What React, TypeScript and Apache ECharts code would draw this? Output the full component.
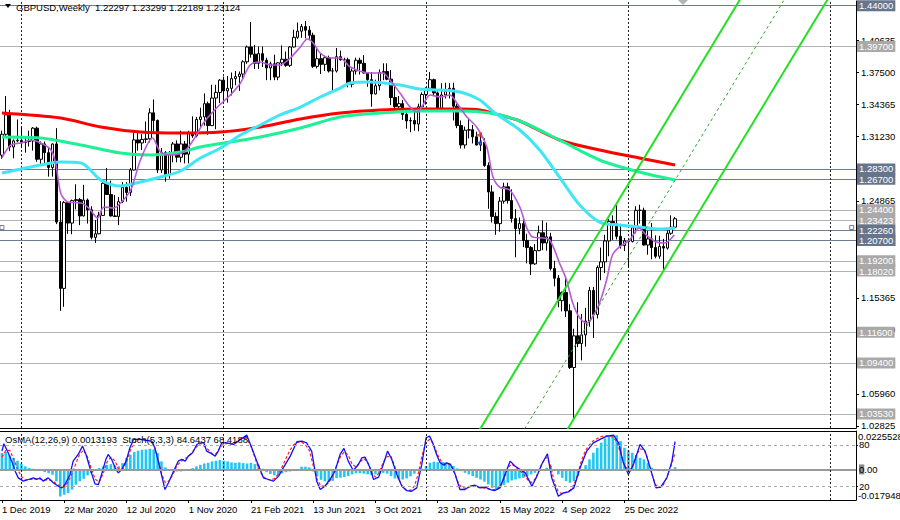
import React, { useEffect, useRef } from "react";
import * as echarts from "echarts";

// ---------- DATA ----------
const SYMBOL = "GBPUSD";
const TIMEFRAME = "Weekly";
const START_UTC = Date.UTC(2019, 11, 1);
const N_SLOTS = 220;
const LABEL_EVERY = 16;
const MONTHS = ["Jan", "Feb", "Mar", "Apr", "May", "Jun", "Jul", "Aug", "Sep", "Oct", "Nov", "Dec"];

// weekly candles [open, high, low, close]
const OHLC: number[][] = [
  [1.2935,1.3175,1.2900,1.3140],[1.3140,1.3515,1.3105,1.3330],[1.3330,1.3380,1.2975,1.3015],[1.3015,1.3090,1.2905,1.3075],
  [1.3075,1.3285,1.3060,1.3080],[1.3080,1.3215,1.3010,1.3060],[1.3060,1.3120,1.2960,1.3070],[1.3070,1.3175,1.3020,1.3075],
  [1.3075,1.3210,1.2980,1.3200],[1.3200,1.3215,1.2870,1.2895],[1.2895,1.3070,1.2850,1.3045],[1.3045,1.3070,1.2850,1.2960],
  [1.2960,1.3010,1.2725,1.2815],[1.2815,1.3050,1.2725,1.3045],[1.3045,1.3200,1.2260,1.2280],[1.2280,1.2485,1.1410,1.1630],
  [1.1630,1.2485,1.1450,1.2470],[1.2470,1.2480,1.2165,1.2270],[1.2270,1.2500,1.2160,1.2490],[1.2490,1.2650,1.2405,1.2500],
  [1.2500,1.2515,1.2250,1.2340],[1.2340,1.2645,1.2335,1.2495],[1.2495,1.2510,1.2265,1.2400],[1.2400,1.2435,1.2110,1.2130],
  [1.2130,1.2300,1.2075,1.2165],[1.2165,1.2380,1.2160,1.2345],[1.2345,1.2670,1.2340,1.2660],[1.2660,1.2810,1.2545,1.2550],
  [1.2550,1.2685,1.2335,1.2340],[1.2340,1.2545,1.2330,1.2335],[1.2335,1.2525,1.2250,1.2480],[1.2480,1.2670,1.2465,1.2620],
  [1.2620,1.2670,1.2480,1.2570],[1.2570,1.2810,1.2535,1.2790],[1.2790,1.3170,1.2785,1.3085],[1.3085,1.3170,1.2980,1.3055],
  [1.3055,1.3140,1.2985,1.3090],[1.3090,1.3265,1.3055,1.3095],[1.3095,1.3395,1.3060,1.3350],[1.3350,1.3480,1.3170,1.3275],
  [1.3275,1.3285,1.2760,1.2790],[1.2790,1.3005,1.2760,1.2960],[1.2960,1.2975,1.2675,1.2745],[1.2745,1.2975,1.2705,1.2945],
  [1.2945,1.3065,1.2865,1.3045],[1.3045,1.3080,1.2865,1.2915],[1.2915,1.3175,1.2865,1.3045],[1.3045,1.3075,1.2855,1.2945],
  [1.2945,1.3175,1.2855,1.3150],[1.3150,1.3315,1.3105,1.3125],[1.3125,1.3310,1.3110,1.3285],[1.3285,1.3400,1.3205,1.3310],
  [1.3310,1.3540,1.3225,1.3440],[1.3440,1.3460,1.3135,1.3225],[1.3225,1.3625,1.3220,1.3495],[1.3495,1.3625,1.3190,1.3550],
  [1.3550,1.3680,1.3445,1.3670],[1.3670,1.3705,1.3450,1.3565],[1.3565,1.3710,1.3450,1.3590],[1.3590,1.3745,1.3520,1.3685],
  [1.3685,1.3760,1.3620,1.3705],[1.3705,1.3755,1.3565,1.3730],[1.3730,1.3865,1.3675,1.3850],[1.3850,1.4010,1.3830,1.3995],
  [1.3995,1.4240,1.3890,1.3925],[1.3925,1.4015,1.3780,1.3835],[1.3835,1.4000,1.3780,1.3930],[1.3930,1.4000,1.3800,1.3865],
  [1.3865,1.3890,1.3670,1.3790],[1.3790,1.3850,1.3670,1.3830],[1.3830,1.3920,1.3670,1.3700],[1.3700,1.3845,1.3670,1.3840],
  [1.3840,1.4010,1.3810,1.3875],[1.3875,1.3950,1.3800,1.3815],[1.3815,1.4005,1.3800,1.3995],[1.3995,1.4165,1.3990,1.4090],
  [1.4090,1.4235,1.4075,1.4150],[1.4150,1.4220,1.4085,1.4195],[1.4195,1.4250,1.4080,1.4160],[1.4160,1.4200,1.4075,1.4110],
  [1.4110,1.4135,1.3790,1.3805],[1.3805,1.3975,1.3785,1.3880],[1.3880,1.3930,1.3730,1.3825],[1.3825,1.3910,1.3760,1.3890],
  [1.3890,1.3910,1.3745,1.3760],[1.3760,1.3790,1.3570,1.3760],[1.3760,1.3985,1.3745,1.3900],[1.3900,1.3960,1.3860,1.3870],
  [1.3870,1.3890,1.3800,1.3870],[1.3870,1.3890,1.3600,1.3630],[1.3630,1.3785,1.3600,1.3760],[1.3760,1.3890,1.3725,1.3865],
  [1.3865,1.3890,1.3725,1.3835],[1.3835,1.3915,1.3735,1.3740],[1.3740,1.3750,1.3605,1.3675],[1.3675,1.3750,1.3410,1.3535],
  [1.3535,1.3675,1.3530,1.3615],[1.3615,1.3775,1.3570,1.3745],[1.3745,1.3835,1.3670,1.3755],[1.3755,1.3835,1.3670,1.3680],
  [1.3680,1.3770,1.3425,1.3500],[1.3500,1.3610,1.3355,1.3410],[1.3410,1.3515,1.3375,1.3440],[1.3440,1.3475,1.3280,1.3335],
  [1.3335,1.3375,1.3195,1.3270],[1.3270,1.3305,1.3160,1.3275],[1.3275,1.3375,1.3175,1.3240],[1.3240,1.3440,1.3170,1.3410],
  [1.3410,1.3550,1.3400,1.3530],[1.3530,1.3600,1.3430,1.3590],[1.3590,1.3750,1.3565,1.3675],[1.3675,1.3685,1.3520,1.3545],
  [1.3545,1.3560,1.3360,1.3385],[1.3385,1.3640,1.3360,1.3525],[1.3525,1.3645,1.3490,1.3560],[1.3560,1.3640,1.3490,1.3590],
  [1.3590,1.3645,1.3275,1.3415],[1.3415,1.3440,1.3200,1.3225],[1.3225,1.3275,1.3000,1.3035],[1.3035,1.3215,1.3000,1.3180],
  [1.3180,1.3300,1.3100,1.3185],[1.3185,1.3230,1.3050,1.3115],[1.3115,1.3165,1.3030,1.3035],[1.3035,1.3145,1.2975,1.3060],
  [1.3060,1.3100,1.2820,1.2835],[1.2835,1.2865,1.2410,1.2575],[1.2575,1.2640,1.2275,1.2335],[1.2335,1.2375,1.2155,1.2265],
  [1.2265,1.2525,1.2185,1.2485],[1.2485,1.2665,1.2460,1.2625],[1.2625,1.2665,1.2460,1.2490],[1.2490,1.2600,1.2275,1.2315],
  [1.2315,1.2405,1.1935,1.2215],[1.2215,1.2325,1.2160,1.2265],[1.2265,1.2325,1.2035,1.2100],[1.2100,1.2165,1.1875,1.2030],
  [1.2030,1.2045,1.1760,1.1870],[1.1870,1.2065,1.1860,1.2000],[1.2000,1.2245,1.1995,1.2175],[1.2175,1.2295,1.2005,1.2075],
  [1.2075,1.2275,1.2000,1.2135],[1.2135,1.2175,1.1805,1.1825],[1.1825,1.1900,1.1650,1.1730],[1.1730,1.1760,1.1445,1.1510],
  [1.1510,1.1600,1.1405,1.1590],[1.1590,1.1740,1.1350,1.1410],[1.1410,1.1475,1.0840,1.0855],[1.0855,1.1235,1.0353,1.1165],
  [1.1165,1.1495,1.1055,1.1090],[1.1090,1.1380,1.0925,1.1175],[1.1175,1.1440,1.1060,1.1310],[1.1310,1.1645,1.1255,1.1610],
  [1.1610,1.1645,1.1145,1.1375],[1.1375,1.1855,1.1335,1.1835],[1.1835,1.2030,1.1710,1.1890],[1.1890,1.2155,1.1780,1.2095],
  [1.2095,1.2310,1.1945,1.2285],[1.2285,1.2345,1.2105,1.2260],[1.2260,1.2445,1.2110,1.2140],[1.2140,1.2245,1.2020,1.2050],
  [1.2050,1.2125,1.1995,1.2095],[1.2095,1.2115,1.1840,1.2090],[1.2090,1.2245,1.2080,1.2225],[1.2225,1.2435,1.2170,1.2395],
  [1.2395,1.2450,1.2265,1.2395],[1.2395,1.2420,1.2050,1.2055],[1.2055,1.2195,1.1960,1.2115],[1.2115,1.2270,1.1915,1.2030],
  [1.2030,1.2150,1.1925,1.1945],[1.1945,1.2145,1.1920,1.2040],[1.2040,1.2115,1.1800,1.2025],[1.2025,1.2205,1.2010,1.2170],
  [1.2170,1.2345,1.2155,1.2230],[1.22297,1.23299,1.22189,1.23124],
];

// moving averages: [week index, price]
const MA_RED = [[0,1.3348],[15.1,1.3299],[25.4,1.3211],[35.6,1.3162],[45.9,1.3152],[56.2,1.3162],[66.4,1.3211],[76.7,1.3290],[86.9,1.3348],[97.2,1.3378],[107.4,1.3388],[117.7,1.3388],[122.8,1.3378],[127.9,1.3329],[133.1,1.3270],[143.3,1.3084],[153.6,1.2986],[163.8,1.2908],[173,1.2839]];
const MA_GREEN = [[0,1.3113],[10,1.3103],[20.3,1.3035],[30.5,1.2956],[38.2,1.2937],[45.9,1.2966],[51,1.3015],[58.7,1.3064],[66.4,1.3113],[76.7,1.3201],[86.9,1.3309],[97.2,1.3348],[107.4,1.3368],[117.7,1.3368],[125.4,1.3348],[133.1,1.3270],[143.3,1.3084],[153.6,1.2888],[163.8,1.2770],[173,1.2692]];
const MA_CYAN = [[0,1.2760],[10,1.2839],[15.1,1.2868],[20.3,1.2858],[25.4,1.2692],[30.5,1.2633],[35.6,1.2672],[40.8,1.2721],[45.9,1.2780],[51,1.2907],[56.2,1.3005],[61.3,1.3133],[66.4,1.3231],[71.5,1.3329],[76.7,1.3407],[81.8,1.3505],[86.9,1.3593],[89.5,1.3642],[94.6,1.3652],[102.3,1.3623],[107.4,1.3583],[112.6,1.3574],[117.7,1.3554],[122.8,1.3476],[126.7,1.3348],[133.1,1.3182],[138.2,1.2986],[143.8,1.2692],[148.5,1.2447],[153.6,1.2280],[158.7,1.2251],[163.8,1.2231],[169,1.2212],[173,1.2222]];
const MA_PURPLE = [[0,1.2908],[2.3,1.3035],[4.9,1.3054],[7.4,1.3084],[10,1.3054],[12.6,1.2986],[13.8,1.2858],[15.1,1.2565],[16.9,1.2477],[20.3,1.2467],[22.3,1.2418],[24.6,1.2320],[26.2,1.2428],[28.7,1.2418],[30.5,1.2467],[33.1,1.2594],[35.6,1.2888],[38.7,1.3103],[40.8,1.2966],[43.3,1.2937],[46.7,1.2966],[49.2,1.3084],[51.8,1.3250],[55.4,1.3407],[58.7,1.3525],[61.3,1.3642],[63.8,1.3819],[66.4,1.3848],[69,1.3819],[71.5,1.3819],[74.1,1.3887],[76.7,1.3995],[78.5,1.4073],[80,1.4034],[81.8,1.3936],[84.4,1.3887],[86.9,1.3887],[89.5,1.3799],[94.6,1.3740],[97.9,1.3740],[99.7,1.3672],[102.3,1.3544],[104.9,1.3407],[106.7,1.3358],[108.2,1.3427],[110,1.3525],[112.6,1.3505],[115.1,1.3525],[116.9,1.3446],[119.5,1.3309],[122,1.3211],[124.6,1.3015],[126.2,1.2721],[127.9,1.2623],[130.5,1.2594],[133.1,1.2427],[134.9,1.2222],[136.4,1.2133],[139,1.2124],[140.8,1.2104],[143.3,1.1879],[145.1,1.1712],[146.7,1.1487],[148.5,1.1340],[150.3,1.1291],[151.8,1.1350],[153.6,1.1487],[155.4,1.1712],[156.9,1.1957],[158.7,1.2036],[161.3,1.2104],[163.8,1.2222],[165.6,1.2153],[168.2,1.2084],[170.3,1.2075],[172.8,1.2153]];

// equidistant channel: two anchor points per line [week index, price]
const CHANNEL_UPPER = [[118.9,1.0],[193.5,1.47]];
const CHANNEL_MID = [[130.3,1.0],[204.9,1.47]];
const CHANNEL_LOWER = [[141.4,1.0],[216.0,1.47]];

// horizontal levels
const LEVELS_DARK = [1.44, 1.283, 1.267, 1.2226, 1.213, 1.207];
const LEVELS_LIGHT = [1.397, 1.244, 1.23423, 1.192, 1.1802, 1.116, 1.094, 1.0353];
const SELECTED_LEVEL = 1.2226;
const TRADE_SELL = [[122.6, 1.3133]];
const TRADE_BUY = [[122.6, 1.3054]];

// price scale
const PRICE_MIN = 1.02623;
const PRICE_MAX = 1.44456;
const PRICE_TICKS = [1.02825,1.0596,1.09095,1.1223,1.15365,1.185,1.2173,1.24865,1.28095,1.3123,1.34365,1.375,1.40635];

// year separators (week index)
const YEAR_STARTS = [5, 57, 109, 161, 213];

// OsMA(12,26,9) histogram
const OSMA = [0.0096,0.0102,0.0082,0.0067,0.0051,0.0033,0.0018,0.0008,0.0004,-0.0004,-0.0008,-0.0016,-0.0022,-0.0031,-0.0070,-0.0159,-0.0149,-0.0139,-0.0119,-0.0090,-0.0070,-0.0055,-0.0035,-0.0022,-0.0008,0.0008,0.0018,0.0027,0.0031,0.0023,0.0018,0.0037,0.0067,0.0086,0.0102,0.0110,0.0115,0.0117,0.0121,0.0117,0.0096,0.0047,0.0012,-0.0006,-0.0008,-0.0012,-0.0012,-0.0008,-0.0004,0.0008,0.0018,0.0027,0.0035,0.0039,0.0047,0.0051,0.0055,0.0051,0.0047,0.0041,0.0039,0.0041,0.0037,0.0035,0.0039,0.0031,0.0023,0.0004,-0.0016,-0.0027,-0.0035,-0.0031,-0.0023,-0.0016,-0.0012,-0.0008,0.0002,0.0016,0.0016,0.0012,-0.0012,-0.0041,-0.0061,-0.0070,-0.0074,-0.0067,-0.0051,-0.0049,-0.0045,-0.0039,-0.0029,-0.0023,-0.0022,-0.0025,-0.0029,-0.0033,-0.0029,-0.0025,-0.0020,-0.0025,-0.0039,-0.0053,-0.0059,-0.0059,-0.0053,-0.0041,-0.0025,-0.0010,-0.0002,0.0020,0.0039,0.0045,0.0043,0.0045,0.0041,0.0033,0.0020,0.0006,-0.0010,-0.0020,-0.0029,-0.0039,-0.0049,-0.0059,-0.0072,-0.0088,-0.0108,-0.0117,-0.0108,-0.0092,-0.0078,-0.0065,-0.0059,-0.0053,-0.0049,-0.0039,-0.0029,-0.0020,-0.0010,-0.0002,0.0010,0.0020,-0.0002,-0.0029,-0.0049,-0.0068,-0.0078,-0.0068,-0.0039,-0.0006,0.0025,0.0059,0.0098,0.0127,0.0157,0.0182,0.0196,0.0201,0.0201,0.0166,0.0127,0.0112,0.0098,0.0084,0.0068,0.0059,0.0039,0.0010,-0.0006,-0.0010,-0.0010,-0.0006,0.0002,0.0013];
const OSMA_MIN = -0.017948;
const OSMA_MAX = 0.0225528;

// Stochastic(5,3,3): main line [week index, value], signal per week
const STOCH_MAIN = [[0,70.9],[0.5,81.5],[1.6,68.4],[2.5,56.3],[3.4,41.8],[4.2,32.1],[5.5,27.3],[6.8,29.7],[8.1,32.1],[8.9,29.7],[9.8,32.1],[10.6,27.3],[11.9,32.1],[13.2,24.9],[14.5,20.0],[15.4,17.6],[16.2,22.4],[17.5,37.0],[18.3,56.3],[19.6,66.0],[20.7,78.1],[21.6,66.0],[22.6,46.6],[23.9,23.4],[24.8,22.4],[25.6,37.0],[26.7,58.8],[27.3,66.0],[28.2,58.8],[29.1,46.6],[29.9,39.3],[30.8,44.2],[31.9,56.3],[32.9,75.7],[33.8,87.8],[35.5,87.8],[37.2,86.4],[38.5,85.4],[39.3,75.7],[40.6,46.6],[41.9,15.2],[42.8,24.9],[44.1,41.8],[45.3,56.3],[46.2,58.8],[47.1,56.3],[47.9,63.6],[49.0,68.4],[50.1,80.5],[50.9,82.9],[51.9,82.9],[52.6,70.9],[53.5,68.4],[54.8,63.6],[55.6,70.9],[56.5,82.9],[57.8,82.9],[59.5,80.5],[60.8,85.4],[62.9,94.1],[64.2,75.7],[65.5,56.3],[67.2,32.1],[68.5,29.7],[69.8,27.3],[71.1,34.6],[72.3,46.6],[74.1,63.6],[75.8,84.4],[77.1,85.4],[78.3,82.9],[79.6,70.9],[80.9,27.3],[81.8,15.2],[83.0,20.0],[84.3,29.7],[85.6,41.8],[86.9,66.0],[87.9,74.8],[89.0,56.3],[90.3,42.8],[91.6,51.5],[92.5,61.2],[93.3,62.2],[94.6,46.6],[95.5,29.7],[96.8,33.1],[98.0,51.5],[99.1,70.9],[100.2,58.8],[101.5,37.0],[102.8,20.0],[104.0,13.7],[105.3,12.7],[106.6,17.6],[107.9,51.5],[109.0,90.2],[109.9,92.6],[110.7,82.9],[111.7,66.0],[112.6,53.9],[113.6,50.5],[114.3,53.9],[115.3,51.5],[116.5,37.0],[117.7,15.2],[119.0,15.2],[120.3,20.0],[121.6,21.4],[122.9,17.6],[124.2,18.6],[125.5,15.2],[126.7,13.7],[128.0,17.6],[129.3,37.0],[130.6,56.3],[131.9,49.0],[133.2,44.2],[134.5,39.3],[136.2,20.0],[137.5,34.6],[138.7,51.5],[140.2,67.0],[141.3,32.1],[143.0,5.5],[144.3,10.3],[145.6,11.8],[147.0,17.6],[148.6,46.6],[150.3,70.9],[152.0,82.9],[153.7,87.8],[155.5,92.6],[157.2,94.1],[158.5,82.9],[159.7,53.9],[161.0,37.0],[162.3,51.5],[164.0,80.5],[165.3,70.9],[166.6,46.6],[168.1,17.6],[169.3,18.6],[170.9,32.1],[172.2,56.3],[173,84.6]];
const STOCH_SIGNAL = [62,72,72,60,45,34,29,30,30,31,30,29,29,28,23,20,19,26,38,53,67,72,62,45,30,26,38,55,62,57,45,44,55,72,83,87,88,87,86,80,62,38,25,28,38,50,56,60,63,70,77,82,78,73,67,67,75,81,82,81,83,88,90,88,78,62,45,35,30,29,31,37,48,60,72,80,84,84,80,72,50,30,20,20,25,35,50,63,70,65,52,48,55,60,55,40,33,40,55,63,63,48,30,19,14,14,20,38,65,84,88,80,65,55,52,52,45,28,19,17,19,20,19,18,17,16,15,15,20,30,47,52,48,43,38,30,25,30,42,55,62,50,25,12,9,11,14,22,38,58,72,80,86,89,92,93,93,91,85,68,50,43,48,65,74,73,60,38,22,18,22,35,50,68.4];
const STOCH_LEVELS = [20, 80];
const SUB_TITLE = "OsMA(12,26,9) 0.0013193  Stoch(5,3,3) 84.6437 68.4188";

// ---------- STYLE ----------
const FONT = "'Liberation Sans', Arial, sans-serif";
const FS = 9.5;
const DARK_LVL = "#6f7d92";
const LIGHT_LVL = "#b2b2b2";

const CATEGORIES = Array.from({ length: N_SLOTS }, (_, i) => {
  const d = new Date(START_UTC + i * 7 * 86400000);
  return `${d.getUTCDate()} ${MONTHS[d.getUTCMonth()]} ${d.getUTCFullYear()}`;
});

function levelItem(v: number, color: string, bg: string) {
  return {
    yAxis: v,
    lineStyle: { color, width: 1, type: "solid" },
    label: {
      show: true,
      position: "end",
      distance: 1,
      formatter: () => v.toFixed(5),
      color: "#fff",
      backgroundColor: bg,
      padding: [1, 2, 0, 2],
      fontSize: FS,
      fontFamily: FONT,
    },
  };
}

function sepItem(i: number) {
  return {
    xAxis: i,
    lineStyle: { color: "#222", width: 1, type: [2, 2] },
    label: { show: false },
  };
}

function buildOption(): any {
  const last = OHLC[OHLC.length - 1];
  const title = `${SYMBOL},${TIMEFRAME}  ${last.map((v) => v.toFixed(5)).join(" ")}`;
  const candleData = OHLC.map(([o, h, l, c]) => [o, c, l, h]);
  const lastIdx = OHLC.length - 1;
  const showDateLabel = (index: number) => index % LABEL_EVERY === 0 && index <= lastIdx;

  const axisText = { fontSize: FS, fontFamily: FONT, color: "#000" };

  return {
    animation: false,
    backgroundColor: "#ffffff",
    textStyle: { fontFamily: FONT },
    grid: [
      { left: 0, right: 44, top: 1, height: 427, outerBoundsMode: "none", containLabel: false },
      { left: 0, right: 44, top: 431, height: 69, outerBoundsMode: "none", containLabel: false },
    ],
    xAxis: [
      {
        type: "category", gridIndex: 0, data: CATEGORIES, boundaryGap: true,
        axisLine: { show: true, onZero: false, lineStyle: { color: "#000", width: 1 } },
        axisTick: { show: false }, axisLabel: { show: false }, splitLine: { show: false },
      },
      { type: "value", gridIndex: 0, min: -0.5, max: N_SLOTS - 0.5, show: false },
      {
        type: "category", gridIndex: 1, data: CATEGORIES, boundaryGap: true, position: "bottom",
        axisLine: { show: true, onZero: false, lineStyle: { color: "#000", width: 1 } },
        axisTick: { show: true, interval: showDateLabel, alignWithLabel: true, length: 3, lineStyle: { color: "#000" } },
        axisLabel: { ...axisText, interval: showDateLabel, align: "left", margin: 4 },
        splitLine: { show: false },
      },
      {
        type: "value", gridIndex: 1, min: -0.5, max: N_SLOTS - 0.5, position: "top",
        axisLine: { show: true, onZero: false, lineStyle: { color: "#000", width: 1 } },
        axisTick: { show: false }, axisLabel: { show: false }, splitLine: { show: false },
      },
    ],
    yAxis: [
      {
        type: "value", gridIndex: 0, position: "right", min: PRICE_MIN, max: PRICE_MAX,
        axisLine: { show: true, onZero: false, lineStyle: { color: "#000" } },
        axisTick: { show: true, customValues: PRICE_TICKS, length: 3, lineStyle: { color: "#000" } },
        axisLabel: { ...axisText, customValues: PRICE_TICKS, margin: 5, formatter: (v: number) => v.toFixed(5) },
        splitLine: { show: false },
      },
      {
        type: "value", gridIndex: 1, position: "right", min: 0, max: 100,
        axisLine: { show: true, onZero: false, lineStyle: { color: "#000" } },
        axisTick: { show: true, customValues: STOCH_LEVELS, length: 2, lineStyle: { color: "#000" } },
        axisLabel: { ...axisText, customValues: STOCH_LEVELS, margin: 3 },
        splitLine: { show: false },
      },
      {
        type: "value", gridIndex: 1, position: "right", min: OSMA_MIN, max: OSMA_MAX,
        axisLine: { show: false, onZero: false }, axisTick: { show: false },
        axisLabel: {
          ...axisText, customValues: [0], margin: 3,
          formatter: () => "{b|0}.00",
          rich: { b: { backgroundColor: "#8a8a8a", color: "#000", fontSize: FS, fontFamily: FONT } },
        },
        splitLine: { show: false },
      },
      {
        type: "value", gridIndex: 1, position: "right", min: OSMA_MIN, max: OSMA_MAX,
        axisLine: { show: false, onZero: false }, axisTick: { show: false },
        axisLabel: { ...axisText, customValues: [OSMA_MAX], margin: 2, verticalAlign: "top", formatter: () => String(OSMA_MAX) },
        splitLine: { show: false },
      },
      {
        type: "value", gridIndex: 1, position: "right", min: OSMA_MIN, max: OSMA_MAX,
        axisLine: { show: false, onZero: false }, axisTick: { show: false },
        axisLabel: { ...axisText, customValues: [OSMA_MIN], margin: 2, verticalAlign: "bottom", formatter: () => String(OSMA_MIN) },
        splitLine: { show: false },
      },
    ],
    series: [
      {
        type: "candlestick", xAxisIndex: 0, yAxisIndex: 0, data: candleData, barWidth: 3, z: 2,
        itemStyle: { color: "#ffffff", color0: "#000000", borderColor: "#000000", borderColor0: "#000000", borderWidth: 1 },
        markLine: {
          silent: true, symbol: ["none", "none"], animation: false, z: 1,
          data: [
            ...LEVELS_LIGHT.map((v) => levelItem(v, LIGHT_LVL, "#a9a9a9")),
            ...LEVELS_DARK.map((v) => levelItem(v, DARK_LVL, "#66758b")),
            ...YEAR_STARTS.map(sepItem),
          ],
        },
      },
      { type: "line", xAxisIndex: 1, yAxisIndex: 0, data: MA_RED, smooth: 0.3, symbol: "none", z: 3, lineStyle: { color: "#ff0000", width: 3 } },
      { type: "line", xAxisIndex: 1, yAxisIndex: 0, data: MA_GREEN, smooth: 0.3, symbol: "none", z: 3, lineStyle: { color: "#1ef095", width: 3 } },
      { type: "line", xAxisIndex: 1, yAxisIndex: 0, data: MA_CYAN, smooth: 0.3, symbol: "none", z: 3, lineStyle: { color: "#3fe6f4", width: 3 } },
      { type: "line", xAxisIndex: 1, yAxisIndex: 0, data: MA_PURPLE, smooth: 0.3, symbol: "none", z: 4, lineStyle: { color: "#b95ad6", width: 1.6 } },
      { type: "line", xAxisIndex: 1, yAxisIndex: 0, data: CHANNEL_UPPER, symbol: "none", z: 5, clip: true, lineStyle: { color: "#22e022", width: 2 } },
      { type: "line", xAxisIndex: 1, yAxisIndex: 0, data: CHANNEL_MID, symbol: "none", z: 5, clip: true, lineStyle: { color: "#2fa52f", width: 1, type: [3, 3] } },
      { type: "line", xAxisIndex: 1, yAxisIndex: 0, data: CHANNEL_LOWER, symbol: "none", z: 5, clip: true, lineStyle: { color: "#22e022", width: 2 } },
      { type: "scatter", xAxisIndex: 1, yAxisIndex: 0, data: TRADE_SELL, symbol: "triangle", symbolRotate: 90, symbolSize: 6, z: 6, itemStyle: { color: "#ff2020" } },
      { type: "scatter", xAxisIndex: 1, yAxisIndex: 0, data: TRADE_BUY, symbol: "triangle", symbolRotate: 90, symbolSize: 6, z: 6, itemStyle: { color: "#2040ff" } },
      {
        type: "scatter", xAxisIndex: 1, yAxisIndex: 0, data: [[0, SELECTED_LEVEL], [N_SLOTS - 1.6, SELECTED_LEVEL]],
        symbol: "rect", symbolSize: 4, z: 6, itemStyle: { color: "#ffffff", borderColor: "#4f5e77", borderWidth: 1 },
      },
      {
        type: "bar", xAxisIndex: 2, yAxisIndex: 2, data: OSMA, barWidth: 2.6, z: 2,
        itemStyle: { color: "#22c6f2" },
        markLine: {
          silent: true, symbol: ["none", "none"], animation: false,
          data: [
            { yAxis: 0, lineStyle: { color: "#9a9a9a", width: 2, type: "solid" }, label: { show: false } },
            ...YEAR_STARTS.map(sepItem),
          ],
        },
      },
      {
        type: "line", xAxisIndex: 2, yAxisIndex: 1, data: STOCH_SIGNAL, symbol: "none", z: 3,
        lineStyle: { color: "#ff2020", width: 1.2, type: [3, 2] },
        markLine: {
          silent: true, symbol: ["none", "none"], animation: false,
          data: STOCH_LEVELS.map((v) => ({ yAxis: v, lineStyle: { color: "#a8a8a8", width: 1, type: [3, 3] }, label: { show: false } })),
        },
      },
      { type: "line", xAxisIndex: 3, yAxisIndex: 1, data: STOCH_MAIN, symbol: "none", z: 4, lineStyle: { color: "#1010ff", width: 1.3 } },
    ],
    graphic: [
      { type: "polygon", shape: { points: [[5, 4], [11, 4], [8, 8]] }, style: { fill: "#000" }, z: 100 },
      { type: "text", left: 16, top: 2, style: { text: title, fill: "#000", font: `${FS}px ${FONT}` }, z: 100 },
      { type: "polygon", shape: { points: [[678, 0], [688, 0], [683, 5]] }, style: { fill: "#b4b4b4" }, z: 100 },
      { type: "text", left: 5, top: 434, style: { text: SUB_TITLE, fill: "#000", font: `${FS}px ${FONT}` }, z: 100 },
    ],
  };
}

export default function App() {
  const ref = useRef<HTMLDivElement>(null);
  useEffect(() => {
    if (!ref.current) return;
    const chart = echarts.init(ref.current, null, { renderer: "svg" });
    chart.setOption(buildOption());
    return () => chart.dispose();
  }, []);
  return (
    <div
      ref={ref}
      style={{ position: "fixed", left: 0, top: 0, width: 900, height: 520, background: "#fff" }}
    />
  );
}
